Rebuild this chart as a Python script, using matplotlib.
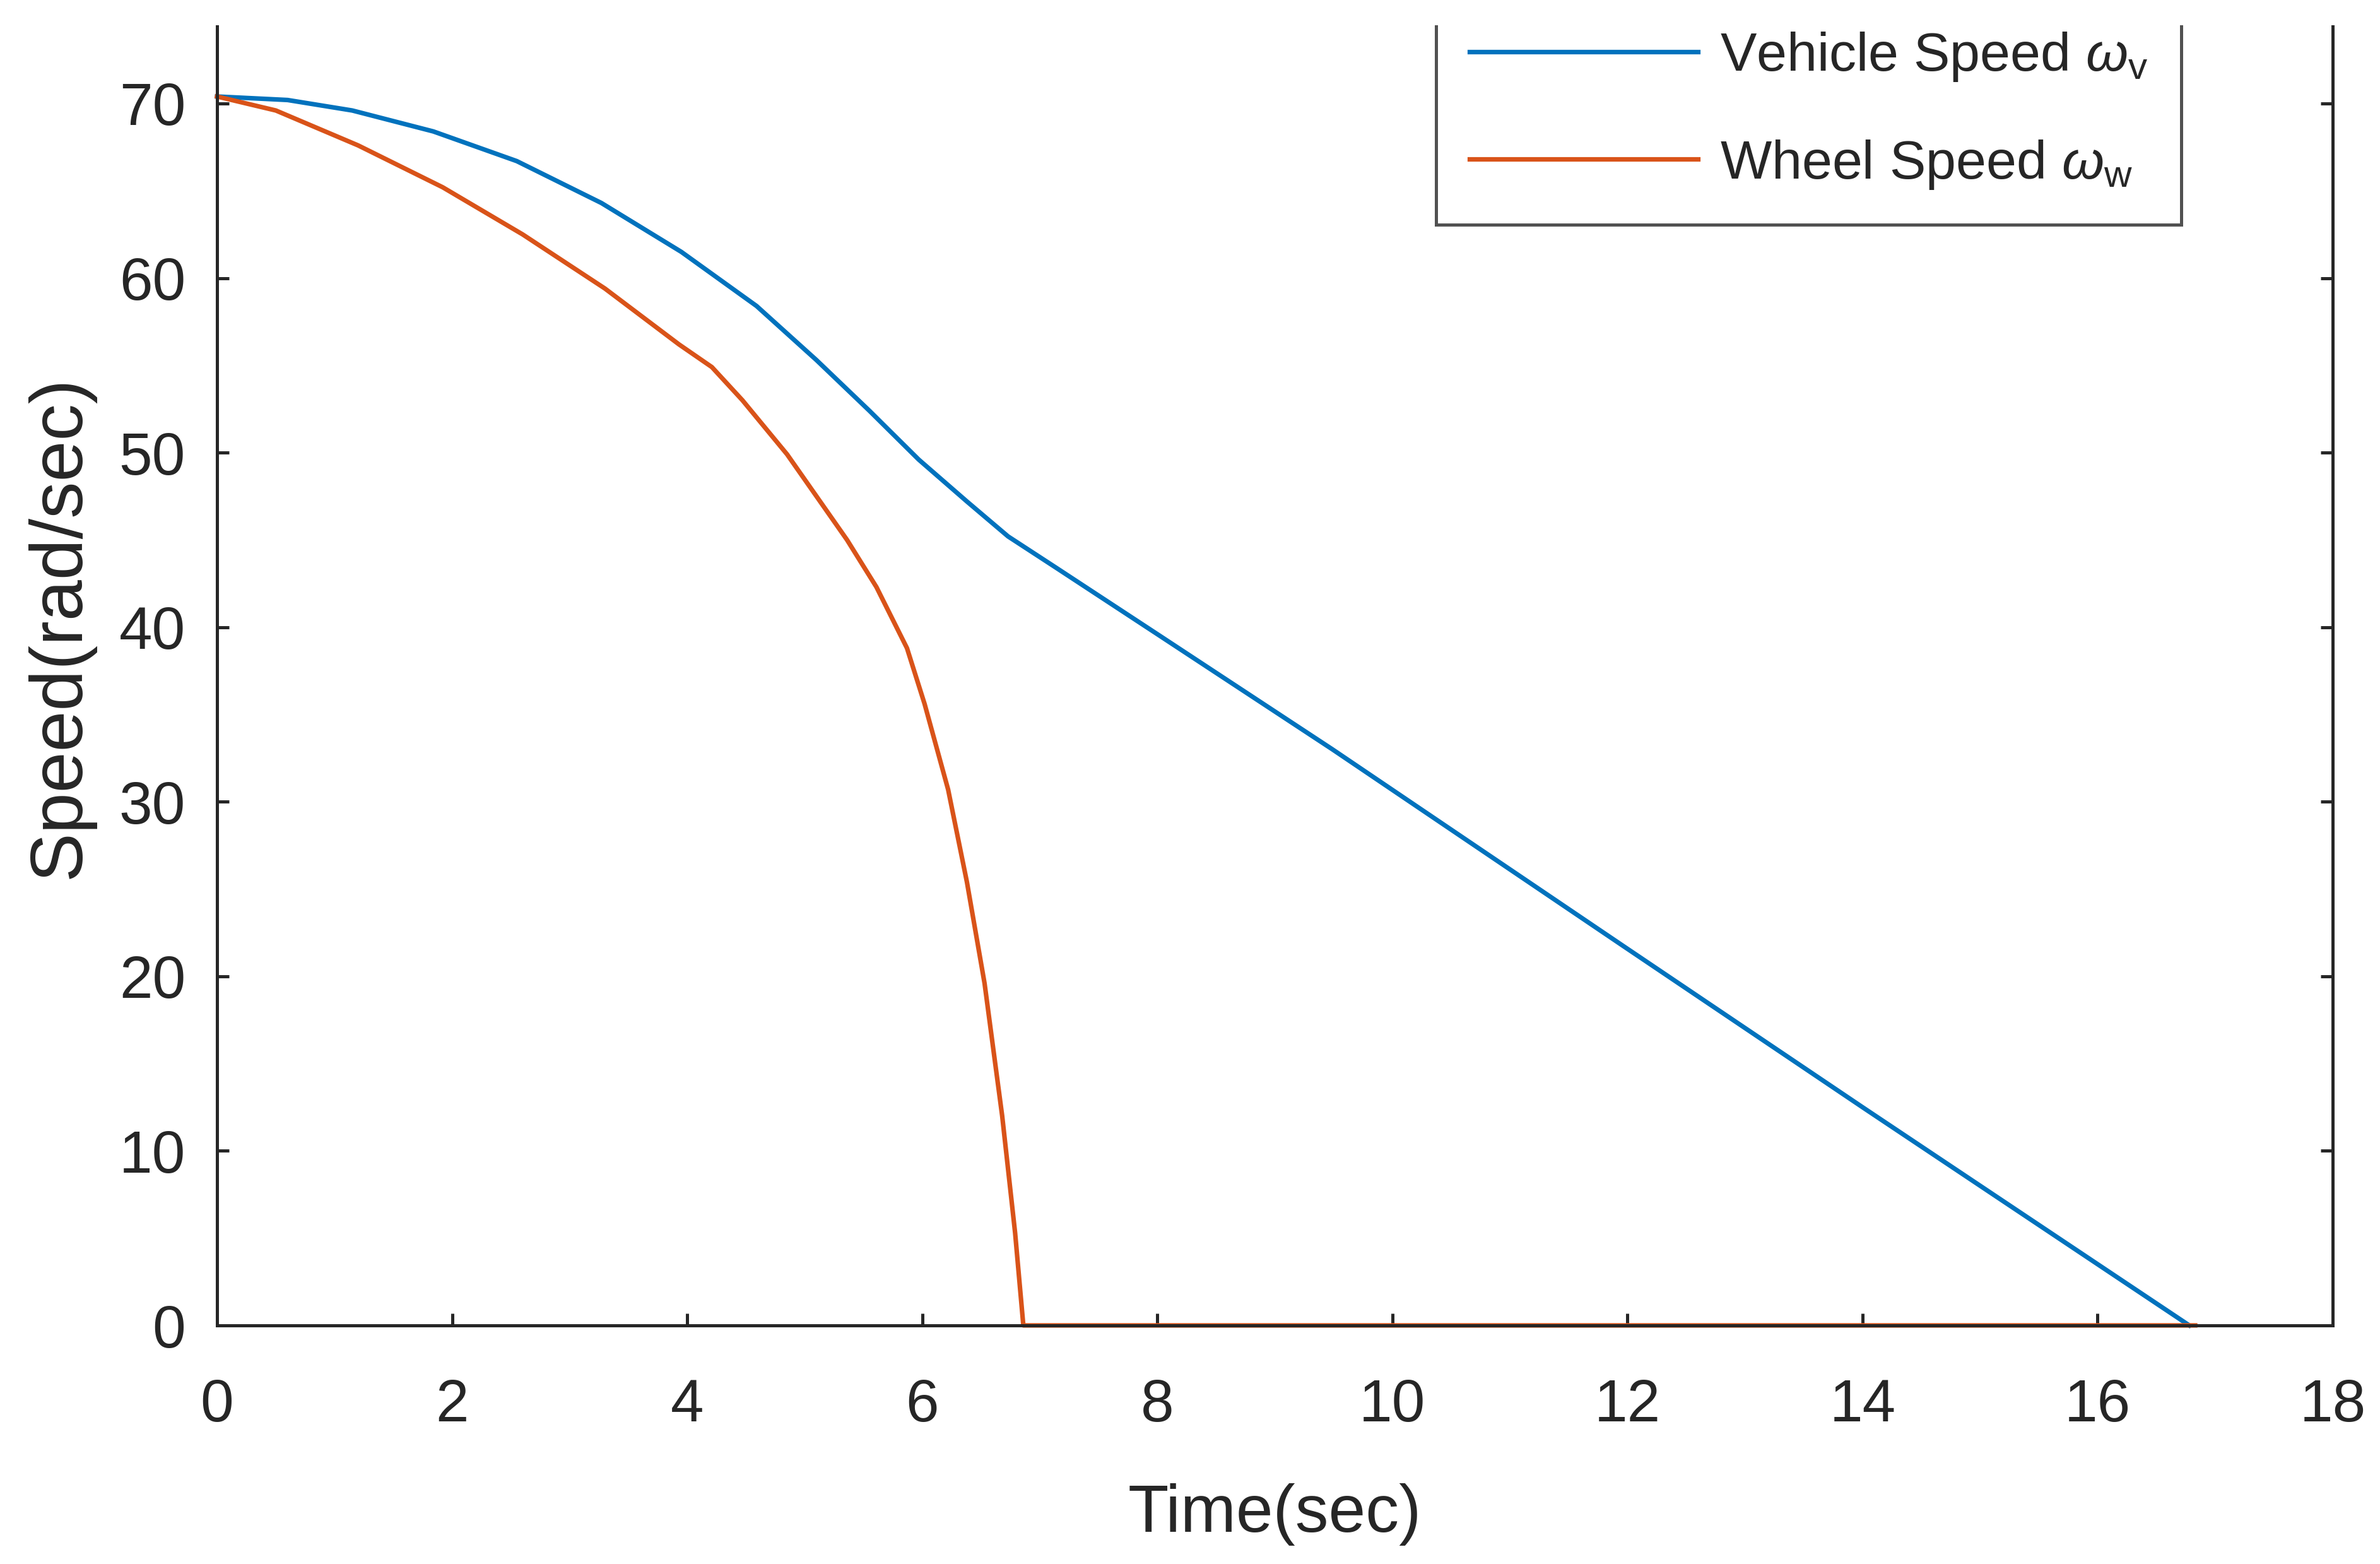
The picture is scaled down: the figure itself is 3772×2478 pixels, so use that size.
import matplotlib
matplotlib.use('Agg')
import matplotlib.pyplot as plt
from matplotlib.patches import Rectangle

# Vehicle speed w_v (rad/sec)
t_vehicle = [0, 0.6, 1.15, 1.84, 2.55, 3.27, 3.95, 4.59, 5.1, 5.55, 5.97, 6.38,
             6.73, 7.14, 8.0, 9.49, 10.72, 11.95, 14.0, 16.78]
w_vehicle = [70.4, 70.2, 69.6, 68.4, 66.7, 64.3, 61.5, 58.4, 55.3, 52.4, 49.6, 47.2,
             45.2, 43.4, 39.6, 33.0, 27.4, 21.8, 12.5, 0.0]

# Wheel speed w_w (rad/sec)
t_wheel = [0, 0.5, 1.2, 1.92, 2.6, 3.3, 3.93, 4.21, 4.47, 4.85, 5.36, 5.61, 5.87,
           6.02, 6.22, 6.38, 6.53, 6.68, 6.79, 6.86, 16.83]
w_wheel = [70.4, 69.6, 67.6, 65.2, 62.5, 59.4, 56.2, 54.9, 53.0, 49.9, 45.0, 42.3, 38.8,
           35.6, 30.7, 25.4, 19.6, 12.0, 5.3, 0.0, 0.0]

labels = [r'Vehicle Speed $\omega_{\mathrm{v}}$', r'Wheel Speed $\omega_{\mathrm{w}}$']
x_ticks = list(range(0, 19, 2))
y_ticks = list(range(0, 71, 10))

plt.rcParams['font.family'] = ['Liberation Sans', 'DejaVu Sans']
plt.rcParams['mathtext.fontset'] = 'custom'
plt.rcParams['mathtext.rm'] = 'Liberation Sans'
plt.rcParams['mathtext.it'] = 'Liberation Sans:italic'

ink = '#262626'
W, H = 3772, 2478
fig = plt.figure(figsize=(W / 200, H / 200), dpi=200)
# axes top (y=80) sits above the picture, like in the cropped original
ax = fig.add_axes([344 / W, 378 / H, 3353 / W, 2212.6 / H])

ax.plot(t_vehicle, w_vehicle, color='#0072BD', lw=2.6, clip_on=False, label=labels[0])
ax.plot(t_wheel, w_wheel, color='#D95319', lw=2.6, clip_on=False, label=labels[1])

ax.set_xlim(0, 18)
ax.set_ylim(0, 80)
ax.set_xticks(x_ticks)
ax.set_yticks(y_ticks)

for s in ax.spines.values():
    s.set_color(ink)
    s.set_linewidth(1.8)
ax.tick_params(direction='in', length=6.8, width=1.8, color=ink, labelcolor=ink,
               labelsize=34, top=True, right=True)
ax.tick_params(axis='x', pad=30)
ax.tick_params(axis='y', pad=18)

ax.set_xlabel('Time(sec)', fontsize=38, color=ink, labelpad=28)
ax.set_ylabel('Speed(rad/sec)', fontsize=42, color=ink, labelpad=14)

leg = ax.legend(loc='lower left', bbox_to_anchor=(2276 / W, 1 - 356 / H),
                bbox_transform=fig.transFigure, fontsize=31, frameon=True,
                fancybox=False, handlelength=4.2, handletextpad=0.4,
                borderpad=0.62, labelspacing=1.0, borderaxespad=0)
leg.get_frame().set_edgecolor(ink)
leg.get_frame().set_linewidth(1.8)
for txt in leg.get_texts():
    txt.set_color(ink)

# white strip at the very top, where the original was cut
fig.patches.append(Rectangle((0, 1 - 40 / H), 1, 40 / H, transform=fig.transFigure,
                             facecolor='white', edgecolor='none', zorder=10))

fig.savefig('out.png', dpi=200, facecolor='white')
